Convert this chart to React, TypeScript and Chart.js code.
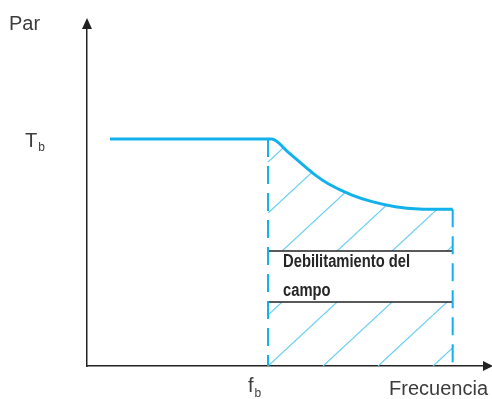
import React, { useEffect, useRef } from "react";
import { Chart, registerables } from "chart.js";

Chart.register(...registerables);

// ---- data (normalised: fb = 1, Tb = 1) ----
const curveX = [0.127, 1.02, 1.114, 1.261, 1.335, 1.464, 1.575, 1.703, 1.833, 2.02];
const curveY = [1, 1, 0.94, 0.841, 0.802, 0.753, 0.724, 0.702, 0.692, 0.69];
const fb = 1;
const Tb = 1;
const fieldEnd = 2.02;
const bandTop = 0.507;
const bandBottom = 0.282;
const xMax = 2.193;
const yMax = 1.489;
const yAxisLabel = "Par";
const xAxisLabel = "Frecuencia";
const tbLabel = ["T", "b"];
const fbLabel = ["f", "b"];
const bandText = ["Debilitamiento del", "campo"];

const CYAN = "#12b1eb";
const HATCH = "#62cbf3";
const INK = "#222222";
const LABEL = "#3c3c3c";
const SANS = '"Liberation Sans", Arial, sans-serif';

function makeHatch(): CanvasPattern {
  const w = 55;
  const h = 51;
  const c = document.createElement("canvas");
  c.width = w;
  c.height = h;
  const g = c.getContext("2d")!;
  g.strokeStyle = HATCH;
  g.lineWidth = 1.2;
  g.beginPath();
  for (const dx of [-w, 0, w]) {
    g.moveTo(dx, h);
    g.lineTo(dx + w, 0);
  }
  g.stroke();
  return g.createPattern(c, "repeat")!;
}

export default function App() {
  const ref = useRef<HTMLCanvasElement | null>(null);

  useEffect(() => {
    if (!ref.current) return;
    const hatch = makeHatch();

    const curve = curveX.map((x, i) => ({ x, y: curveY[i] }));
    const upper = [{ x: fb, y: Tb }, ...curve.filter((p) => p.x > fb)];
    const endY = curveY[curveY.length - 1];

    const hatchAlign = {
      id: "hatchAlign",
      beforeDatasetsDraw(chart: any) {
        const xs = chart.scales.x;
        const ys = chart.scales.y;
        const px = xs.getPixelForValue(fb);
        const py = ys.getPixelForValue(0);
        hatch.setTransform(new DOMMatrix([1, 0, 0, 1, px, py - 51]));
      },
    };

    const decorations = {
      id: "decorations",
      afterDraw(chart: any) {
        const ctx = chart.ctx as CanvasRenderingContext2D;
        const { left, right, top, bottom } = chart.chartArea;
        const xs = chart.scales.x;
        const ys = chart.scales.y;
        ctx.save();
        // arrows
        ctx.fillStyle = INK;
        ctx.beginPath();
        ctx.moveTo(left, top - 10);
        ctx.lineTo(left - 5, top + 1);
        ctx.lineTo(left + 5, top + 1);
        ctx.closePath();
        ctx.fill();
        ctx.beginPath();
        ctx.moveTo(right + 9, bottom);
        ctx.lineTo(right - 1, bottom - 5);
        ctx.lineTo(right - 1, bottom + 5);
        ctx.closePath();
        ctx.fill();

        // axis labels
        ctx.fillStyle = LABEL;
        ctx.textBaseline = "alphabetic";
        ctx.font = `20px ${SANS}`;
        ctx.textAlign = "left";
        ctx.fillText(yAxisLabel, left - 78, top + 2);
        ctx.textAlign = "right";
        ctx.fillText(xAxisLabel, right + 4, bottom + 29);

        // Tb
        const yTb = ys.getPixelForValue(Tb);
        ctx.textAlign = "left";
        ctx.font = `20px ${SANS}`;
        ctx.fillText(tbLabel[0], left - 62, yTb + 8);
        const tw = ctx.measureText(tbLabel[0]).width;
        ctx.font = `12px ${SANS}`;
        ctx.fillText(tbLabel[1], left - 62 + tw + 1, yTb + 12);

        // fb
        const xFb = xs.getPixelForValue(fb);
        ctx.font = `20px ${SANS}`;
        ctx.fillText(fbLabel[0], xFb - 20, bottom + 26);
        const fw = ctx.measureText(fbLabel[0]).width;
        ctx.font = `12px ${SANS}`;
        ctx.fillText(fbLabel[1], xFb - 20 + fw + 1, bottom + 31);

        // band text (condensed look via horizontal scaling)
        const yMid = (ys.getPixelForValue(bandTop) + ys.getPixelForValue(bandBottom)) / 2;
        ctx.fillStyle = "#262626";
        ctx.font = `bold 18px ${SANS}`;
        ctx.textBaseline = "middle";
        const sx = 0.82;
        ctx.save();
        ctx.translate(xFb + 15, 0);
        ctx.scale(sx, 1);
        ctx.fillText(bandText[0], 0, yMid - 14);
        ctx.fillText(bandText[1], 0, yMid + 15);
        ctx.restore();
        ctx.restore();
      },
    };

    const chart = new Chart(ref.current, {
      type: "line",
      data: {
        datasets: [
          {
            data: curve,
            borderColor: CYAN,
            borderWidth: 3,
            cubicInterpolationMode: "monotone",
            pointRadius: 0,
            fill: false,
            order: 0,
          } as any,
          {
            data: [
              { x: fb, y: Tb },
              { x: fb, y: 0 },
            ],
            borderColor: CYAN,
            borderWidth: 2,
            borderDash: [18, 9],
            pointRadius: 0,
            fill: false,
            order: 1,
          },
          {
            data: [
              { x: fieldEnd, y: endY },
              { x: fieldEnd, y: 0 },
            ],
            borderColor: CYAN,
            borderWidth: 2,
            borderDash: [18, 9],
            pointRadius: 0,
            fill: false,
            order: 1,
          },
          {
            data: [
              { x: fb, y: bandTop },
              { x: fieldEnd, y: bandTop },
            ],
            borderColor: INK,
            borderWidth: 1.5,
            pointRadius: 0,
            fill: false,
            order: 2,
          },
          {
            data: [
              { x: fb, y: bandBottom },
              { x: fieldEnd, y: bandBottom },
            ],
            borderColor: INK,
            borderWidth: 1.5,
            pointRadius: 0,
            fill: false,
            order: 2,
          },
          {
            data: upper,
            borderColor: "rgba(0,0,0,0)",
            borderWidth: 0,
            cubicInterpolationMode: "monotone",
            pointRadius: 0,
            backgroundColor: hatch as any,
            fill: { value: bandTop },
            order: 5,
          } as any,
          {
            data: [
              { x: fb, y: bandBottom },
              { x: fieldEnd, y: bandBottom },
            ],
            borderColor: "rgba(0,0,0,0)",
            borderWidth: 0,
            pointRadius: 0,
            backgroundColor: hatch as any,
            fill: "origin",
            order: 5,
          } as any,
        ],
      },
      options: {
        animation: false,
        responsive: false,
        devicePixelRatio: 1,
        events: [],
        layout: { padding: { left: 87, right: 8, top: 28, bottom: 33 } },
        plugins: {
          legend: { display: false },
          tooltip: { enabled: false },
        },
        scales: {
          x: {
            type: "linear",
            min: 0,
            max: xMax,
            grid: { display: false },
            ticks: { display: false },
            border: { display: true, color: INK, width: 1.5 },
            afterFit: (s: any) => {
              s.height = 0;
            },
          },
          y: {
            type: "linear",
            min: 0,
            max: yMax,
            grid: { display: false },
            ticks: { display: false },
            border: { display: true, color: INK, width: 1.5 },
            afterFit: (s: any) => {
              s.width = 0;
            },
          },
        },
      },
      plugins: [hatchAlign, decorations],
    });

    return () => chart.destroy();
  }, []);

  return (
    <div style={{ position: "fixed", left: 0, top: 0, width: 492, height: 399, background: "#fff" }}>
      <canvas ref={ref} width={492} height={399} style={{ display: "block" }} />
    </div>
  );
}
